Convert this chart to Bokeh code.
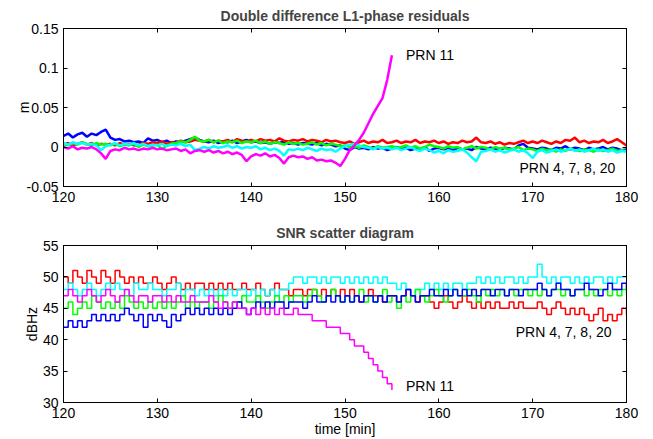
import numpy as np
from bokeh.plotting import figure
from bokeh.models import Range1d, LinearAxis, FixedTicker, CustomJSTickFormatter
from bokeh.layouts import column
from bokeh.core.properties import value
from bokeh.embed import file_html
from bokeh.resources import INLINE

FONT = "Liberation Sans"

# sample times [min], one value every 0.5 min
time_min = np.arange(120, 180.01, 0.5)
time_prn11 = time_min[:71]          # PRN 11 ends at 155 min

# ---- Double difference L1-phase residuals [mm] ----
dd_blue_mm = [14, 17, 12, 16, 18, 13, 17, 15, 19, 22,
              12, 9, 10, 7, 8, 6, 7, 5, 11, 8,
              9, 6, 8, 5, 7, 6, 8, 10, 12, 9,
              7, 6, 8, 5, 7, 6, 8, 5, 7, 9,
              6, 7, 5, 6, 4, 6, 5, 7, 4, 5,
              3, 5, 4, 3, 5, 2, 4, 3, 1, 2,
              -2, -4, 0, -2, -1, -3, 0, -2, -1, -4,
              -2, 0, -3, -1, -4, -2, -3, 0, -5, -2,
              -1, -3, -2, -4, -1, -3, -2, -4, 0, -2,
              -3, -1, -2, -4, -1, -2, -3, 2, 4, -1,
              -2, -3, -1, -2, -4, -1, -2, 1, -3, -1,
              -2, -4, -1, -3, -2, 0, -3, -1, -2, -4,
              -3]
dd_red_mm = [3, 5, 2, 4, 6, 3, 5, 2, 4, 3,
             4, 2, 5, 3, 4, 2, 3, 5, 4, 6,
             5, 7, 4, 6, 5, 8, 6, 7, 9, 8,
             7, 9, 6, 8, 7, 9, 6, 10, 8, 7,
             9, 7, 10, 8, 9, 7, 11, 8, 7, 9,
             8, 10, 7, 9, 8, 6, 9, 7, 8, 6,
             5, 7, 4, 6, 8, 5, 7, 6, 9, 5,
             6, 8, 5, 7, 6, 9, 5, 7, 6, 8,
             5, 7, 4, 6, 5, 8, 6, 7, 12, 6,
             5, 7, 4, 6, 3, 5, 4, 6, 8, 5,
             7, 5, 8, 6, 4, 7, 5, 9, 8, 12,
             6, 8, 5, 7, 6, 9, 5, 7, 10, 6,
             2]
dd_green_mm = [4, 2, 5, 3, 6, 4, 2, 5, 3, 4,
               2, 4, 1, 3, 2, 4, 0, 3, 1, 2,
               3, -3, 2, 4, 5, 7, 6, 9, 13, 8,
               7, 9, 6, 8, 5, 7, 6, 8, 5, 7,
               6, 8, 5, 7, 4, 6, 5, 3, 6, 4,
               5, 3, 4, 6, 3, 5, 2, 4, 3, 1,
               2, 0, 1, -1, 2, 0, -2, 1, -1, 0,
               1, -1, 0, 2, -1, 1, -2, 0, 3, 1,
               0, -2, 1, -1, 0, -3, -1, 1, -2, 0,
               -1, -3, 0, -2, -1, -3, -2, 0, -4, -2,
               -3, -5, -2, -4, -3, -6, -3, -5, -2, -4,
               -5, -3, -4, -6, -3, -5, -4, -2, -5, -4,
               -5]
dd_cyan_mm = [5, 3, 6, 4, 5, 3, 4, 2, -4, 1,
              3, 5, 2, 4, 3, 5, 2, 4, 1, 3,
              2, 4, 1, 3, 2, 4, 1, 3, -4, -2,
              0, -2, 1, -1, 0, 2, -1, 1, -2, 0,
              -1, 1, -3, -1, -4, -2, -5, -11, -3, -4,
              -2, -4, -1, -3, -5, -2, -4, -3, -6, -2,
              1, 3, 4, 2, 0, -1, -3, 0, -2, -1,
              -3, -1, -4, -2, 0, -3, -5, -2, -4, -7,
              -5, -8, -4, -6, -5, -3, -7, -13, -18, -6,
              -5, -3, -6, -4, -7, -5, -3, -6, -4, -8,
              -14, -6, -4, -7, -5, -3, -6, -4, -2, -5,
              -3, -6, -4, -2, -5, -3, -6, -4, -7, -5,
              -6]
dd_magenta_mm = [0, -2, 1, -3, -1, -2, 0, -3, -8, -15,
                 -5, -3, -4, -1, -3, -2, -4, -2, -3, -1,
                 -3, -2, -4, -3, -2, -5, -3, -8, -5, -4,
                 -6, -4, -7, -5, -8, -6, -9, -7, -10, -18,
                 -12, -9, -11, -8, -12, -10, -14, -21, -13, -11,
                 -13, -12, -15, -13, -17, -16, -18, -17, -20, -24,
                 -15, -4, 2, 9, 18, 30, 42, 52, 62, 85,
                 116]

# ---- SNR [dBHz] ----
snr_red = [50, 49, 51, 50, 49, 51, 50, 49, 51, 50,
           49, 51, 50, 49, 50, 49, 50, 49, 49, 50,
           49, 48, 49, 50, 49, 48, 49, 48, 49, 49,
           48, 49, 48, 49, 48, 49, 48, 48, 49, 48,
           48, 49, 48, 47, 48, 49, 48, 48, 47, 48,
           48, 47, 48, 48, 47, 48, 47, 48, 47, 48,
           47, 48, 47, 46, 47, 48, 47, 47, 46, 47,
           47, 46, 47, 48, 47, 46, 47, 47, 46, 45,
           46, 47, 46, 45, 46, 47, 46, 45, 46, 45,
           46, 45, 46, 45, 45, 46, 45, 46, 45, 45,
           45, 46, 45, 44, 45, 46, 45, 44, 45, 44,
           45, 44, 43, 44, 45, 43, 44, 43, 44, 45,
           44]
snr_cyan = [48, 49, 48, 47, 48, 49, 48, 47, 48, 49,
            48, 49, 48, 48, 47, 49, 48, 48, 49, 48,
            48, 47, 48, 48, 49, 47, 48, 48, 47, 48,
            47, 48, 47, 48, 47, 48, 47, 48, 48, 47,
            48, 47, 48, 47, 48, 47, 48, 48, 49, 50,
            50, 49, 50, 50, 49, 50, 49, 50, 50, 49,
            50, 49, 50, 49, 50, 49, 50, 49, 50, 49,
            49, 48, 49, 48, 47, 48, 48, 49, 48, 49,
            48, 49, 48, 49, 49, 48, 49, 49, 50, 49,
            50, 49, 50, 49, 50, 50, 49, 50, 49, 50,
            50, 52, 50, 49, 50, 49, 50, 50, 49, 50,
            49, 50, 49, 50, 50, 49, 50, 49, 50, 50,
            50]
snr_magenta = [47, 48, 47, 46, 47, 48, 47, 46, 47, 48,
               47, 46, 47, 48, 47, 46, 47, 47, 46, 47,
               47, 46, 47, 46, 47, 46, 46, 47, 46, 46,
               46, 47, 46, 45, 46, 45, 46, 45, 45, 44,
               45, 44, 45, 44, 45, 44, 45, 44, 44, 45,
               44, 44, 44, 43, 43, 43, 42, 42, 42, 41,
               41, 40, 39, 39, 38, 37, 36, 35, 34, 33,
               32]
snr_green = [45, 46, 44, 45, 46, 45, 47, 46, 45, 46,
             45, 46, 45, 47, 46, 45, 46, 45, 46, 45,
             46, 45, 46, 45, 46, 47, 45, 46, 45, 46,
             46, 45, 46, 47, 46, 45, 46, 46, 47, 46,
             46, 47, 46, 45, 46, 47, 46, 47, 46, 47,
             47, 46, 47, 48, 47, 46, 47, 48, 47, 46,
             47, 46, 47, 48, 46, 47, 46, 47, 48, 46,
             47, 45, 47, 46, 47, 48, 47, 46, 47, 48,
             47, 46, 47, 48, 47, 47, 48, 47, 46, 48,
             47, 48, 47, 48, 47, 48, 47, 48, 48, 47,
             48, 47, 48, 47, 48, 48, 47, 48, 47, 48,
             48, 47, 48, 47, 48, 48, 47, 48, 47, 48,
             47]
snr_blue = [42, 43, 42, 43, 42, 43, 44, 43, 44, 43,
            44, 43, 44, 45, 44, 43, 44, 42, 44, 43,
            44, 43, 42, 44, 43, 44, 45, 44, 45, 44,
            45, 44, 45, 44, 45, 44, 45, 46, 45, 44,
            45, 46, 45, 46, 45, 46, 46, 45, 46, 46,
            46, 45, 46, 47, 46, 46, 47, 46, 47, 46,
            47, 46, 47, 46, 47, 47, 46, 47, 46, 47,
            47, 46, 47, 48, 47, 46, 47, 47, 48, 47,
            47, 48, 47, 48, 47, 48, 47, 48, 47, 48,
            48, 47, 48, 48, 47, 48, 48, 47, 48, 48,
            48, 49, 48, 47, 48, 49, 48, 48, 47, 48,
            48, 49, 48, 48, 47, 48, 49, 48, 48, 49,
            48]

x_ticks = [120, 130, 140, 150, 160, 170, 180]
dd_ticks = [-0.05, 0, 0.05, 0.1, 0.15]
snr_ticks = [30, 35, 40, 45, 50, 55]

BLUE, RED, GREEN, CYAN, MAGENTA = "#0000ff", "#ff0000", "#00ff00", "#00ffff", "#ff00ff"
FS = "14px"

fmt = CustomJSTickFormatter(code="return String(Math.round(tick*1000)/1000);")


def style(p, yticks, ylabel, ylabel_standoff, xlabel=None):
    p.outline_line_color = "black"
    p.outline_line_alpha = 1.0
    p.xgrid.visible = False
    p.ygrid.visible = False
    p.title.align = "center"
    p.title.text_font = FONT
    p.title.text_font_size = FS
    p.title.text_font_style = "bold"
    for ax, ticks in ((p.xaxis[0], x_ticks), (p.yaxis[0], yticks)):
        ax.ticker = FixedTicker(ticks=ticks)
        ax.formatter = fmt
        ax.major_tick_in = 4
        ax.major_tick_out = 0
        ax.minor_tick_line_color = None
        ax.major_label_text_font = FONT
        ax.major_label_text_font_size = FS
        ax.major_label_text_color = "black"
        ax.axis_line_color = "black"
        ax.major_tick_line_color = "black"
        ax.major_label_standoff = 5
        ax.axis_label_text_font = FONT
        ax.axis_label_text_font_size = FS
        ax.axis_label_text_font_style = "normal"
        ax.axis_label_text_color = "black"
    p.yaxis[0].axis_label = ylabel
    p.yaxis[0].axis_label_standoff = ylabel_standoff
    if xlabel:
        p.xaxis[0].axis_label = xlabel
        p.xaxis[0].axis_label_standoff = 0
    # tick marks only (no labels) on the right and top edges of the box
    for side, ticks in (("right", yticks), ("above", x_ticks)):
        ax = LinearAxis(ticker=FixedTicker(ticks=ticks), major_label_text_color=None,
                        major_label_text_font_size=FS,
                        major_tick_in=4, major_tick_out=0, minor_tick_line_color=None,
                        axis_line_color="black", major_label_standoff=0)
        p.add_layout(ax, side)


# ---------------- top panel ----------------
p1 = figure(width=653, height=215, x_range=Range1d(120, 180), y_range=Range1d(-0.05, 0.15),
            output_backend="svg", toolbar_location=None,
            title="Double difference L1-phase residuals",
            min_border_left=63, min_border_right=27, min_border_top=27, min_border_bottom=29)
for ys, c in ((dd_blue_mm, BLUE), (dd_red_mm, RED), (dd_green_mm, GREEN), (dd_cyan_mm, CYAN)):
    p1.line(time_min, np.array(ys) / 1000.0, line_color=c, line_width=2.5)
p1.line(time_prn11, np.array(dd_magenta_mm) / 1000.0, line_color=MAGENTA, line_width=2.5)
p1.text(x=[156.5], y=[0.116], text=["PRN 11"], text_font=value(FONT), text_font_size=FS,
        text_baseline="middle", text_align="left", text_color="black")
p1.text(x=[168.6], y=[-0.026], text=["PRN 4, 7, 8, 20"], text_font=value(FONT), text_font_size=FS,
        text_baseline="middle", text_align="left", text_color="black")
style(p1, dd_ticks, "m", -8)

# ---------------- bottom panel ----------------
p2 = figure(width=653, height=224, x_range=Range1d(120, 180), y_range=Range1d(30, 55),
            output_backend="svg", toolbar_location=None,
            title="SNR scatter diagram",
            min_border_left=63, min_border_right=27, min_border_top=30, min_border_bottom=36)
for ys, c in ((snr_red, RED), (snr_cyan, CYAN), (snr_green, GREEN), (snr_blue, BLUE)):
    p2.step(time_min, ys, line_color=c, line_width=1.5, mode="after")
p2.step(time_prn11, snr_magenta, line_color=MAGENTA, line_width=1.5, mode="after")
p2.text(x=[168.2], y=[41.3], text=["PRN 4, 7, 8, 20"], text_font=value(FONT), text_font_size=FS,
        text_baseline="middle", text_align="left", text_color="black")
p2.text(x=[156.5], y=[32.7], text=["PRN 11"], text_font=value(FONT), text_font_size=FS,
        text_baseline="middle", text_align="left", text_color="black")
style(p2, snr_ticks, "dBHz", 0, xlabel="time [min]")

layout = column(p1, p2)
open("out.html", "w").write(file_html(layout, INLINE))
